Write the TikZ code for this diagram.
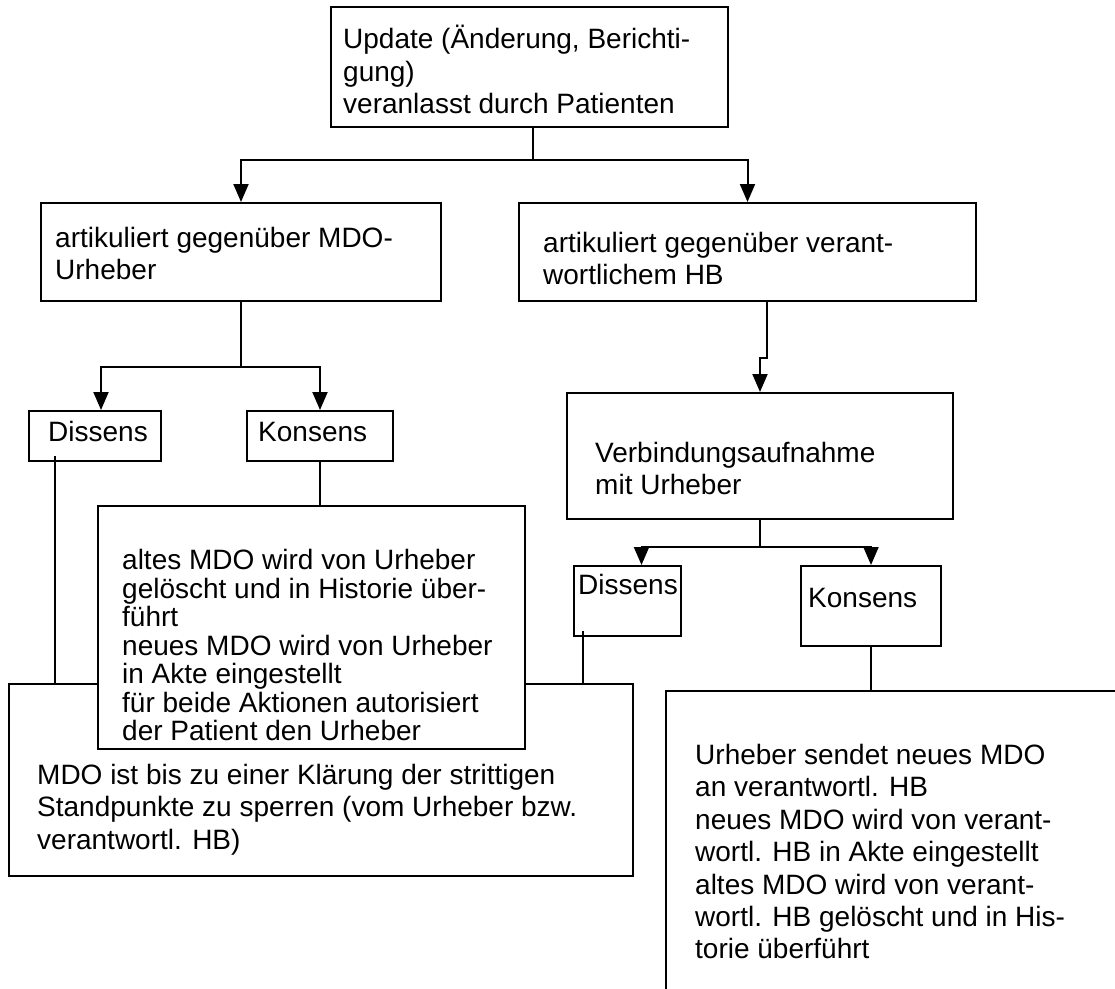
\documentclass[tikz,border=0pt]{standalone}
\usepackage{fontspec}
\setmainfont{Liberation Sans}
\usetikzlibrary{arrows.meta,positioning,calc}

\tikzset{
  blk/.style={draw,line width=2pt,rectangle,anchor=north west,inner sep=0pt,fill=white},
  txt/.style={anchor=north west,inner sep=0pt,align=left,
    font=\fontsize{28pt}{32.4pt}\selectfont,execute at begin node=\strut},
  lnk/.style={line width=2pt},
  arr/.style={lnk,-{Triangle[width=15pt,length=18pt]}}
}

\begin{document}
\begin{tikzpicture}[x=1pt,y=-1pt]
\path[use as bounding box] (0,0) rectangle (1115,988);
\clip (0,0) rectangle (1115,988);

% boxes
\node[blk,minimum width=397pt,minimum height=120pt] (top) at (330,6) {};
\node[blk,minimum width=400pt,minimum height=98pt] (art1) at (40,202) {};
\node[blk,minimum width=457pt,minimum height=98pt] (art2) at (518,202) {};
\node[blk,minimum width=132pt,minimum height=50pt] (dis1) at (28,410) {};
\node[blk,minimum width=146pt,minimum height=50pt] (kon1) at (246,410) {};
\node[blk,minimum width=624pt,minimum height=192pt] (sperr) at (8,683) {};
\node[blk,minimum width=427pt,minimum height=243pt] (kontxt) at (97,505) {};
\node[blk,minimum width=386pt,minimum height=126pt] (verb) at (566,392) {};
\node[blk,minimum width=107pt,minimum height=70pt] (dis2) at (573,565) {};
\node[blk,minimum width=140pt,minimum height=80pt] (kon2) at (800,565) {};
\node[blk,minimum width=500pt,minimum height=350pt] (konR) at (665,690) {};

% texts
\node[txt] (topT) at ([shift={(13,19)}]top.north west) {Update (Änderung, Berichti-\\gung)\\veranlasst durch Patienten};
\node[txt] (art1T) at ([shift={(15,25)}]art1.north west) {artikuliert gegenüber MDO-\\Urheber};
\node[txt] (art2T) at ([shift={(25,30)}]art2.north west) {artikuliert gegenüber verant-\\wortlichem HB};
\node[txt] (dis1T) at ([shift={(20,9)}]dis1.north west) {Dissens};
\node[txt] (kon1T) at ([shift={(12,9)}]kon1.north west) {Konsens};
\node[txt,font=\fontsize{28pt}{28.5pt}\selectfont] (kontxtT) at ([shift={(25,44)}]kontxt.north west) {altes MDO wird von Urheber\\gelöscht und in Historie über-\\führt\\neues MDO wird von Urheber\\in Akte eingestellt\\für beide Aktionen autorisiert\\der Patient den Urheber};
\node[txt] (verbT) at ([shift={(29,50)}]verb.north west) {Verbindungsaufnahme\\mit Urheber};
\node[txt] (dis2T) at ([shift={(5,7)}]dis2.north west) {Dissens};
\node[txt] (kon2T) at ([shift={(8,20)}]kon2.north west) {Konsens};
\node[txt] (sperrT) at ([shift={(29,81)}]sperr.north west) {MDO ist bis zu einer Klärung der strittigen\\Standpunkte zu sperren (vom Urheber bzw.\\verantwortl. HB)};
\node[txt] (konRT) at ([shift={(30,54)}]konR.north west) {Urheber sendet neues MDO\\an verantwortl. HB\\neues MDO wird von verant-\\wortl. HB in Akte eingestellt\\altes MDO wird von verant-\\wortl. HB gelöscht und in His-\\torie überführt};

% connectors
\coordinate (j1) at (533,160);
\draw[lnk] (top.south -| j1) -- (j1);
\draw[arr] (j1) -| (art1.north);
\draw[arr] (j1) -| (art2.north);

\draw[lnk] (art1.south) -- ++(0,65) coordinate (j2);
\draw[arr] (j2) -| ([xshift=6pt]dis1.north);
\draw[arr] (j2) -| (kon1.north);

\coordinate (j3) at (767,358);
\draw[arr] (art2.south -| j3) -- (j3) -| (verb.north);

\draw[lnk] (verb.south) -- ++(0,27) coordinate (j4);
\draw[arr] (j4) -| ([xshift=14pt]dis2.north);
\draw[arr] (j4) -| (kon2.north);

\draw[lnk] ([shift={(27,-6)}]dis1.south west) coordinate (d1) -- (d1 |- sperr.north);
\draw[lnk] (kon1.south) -- (kon1.south |- kontxt.north);
\draw[lnk] ([shift={(10,-6)}]dis2.south west) coordinate (d2) -- (d2 |- sperr.north);
\draw[lnk] (kon2.south) -- (kon2.south |- konR.north);

\end{tikzpicture}
\end{document}
